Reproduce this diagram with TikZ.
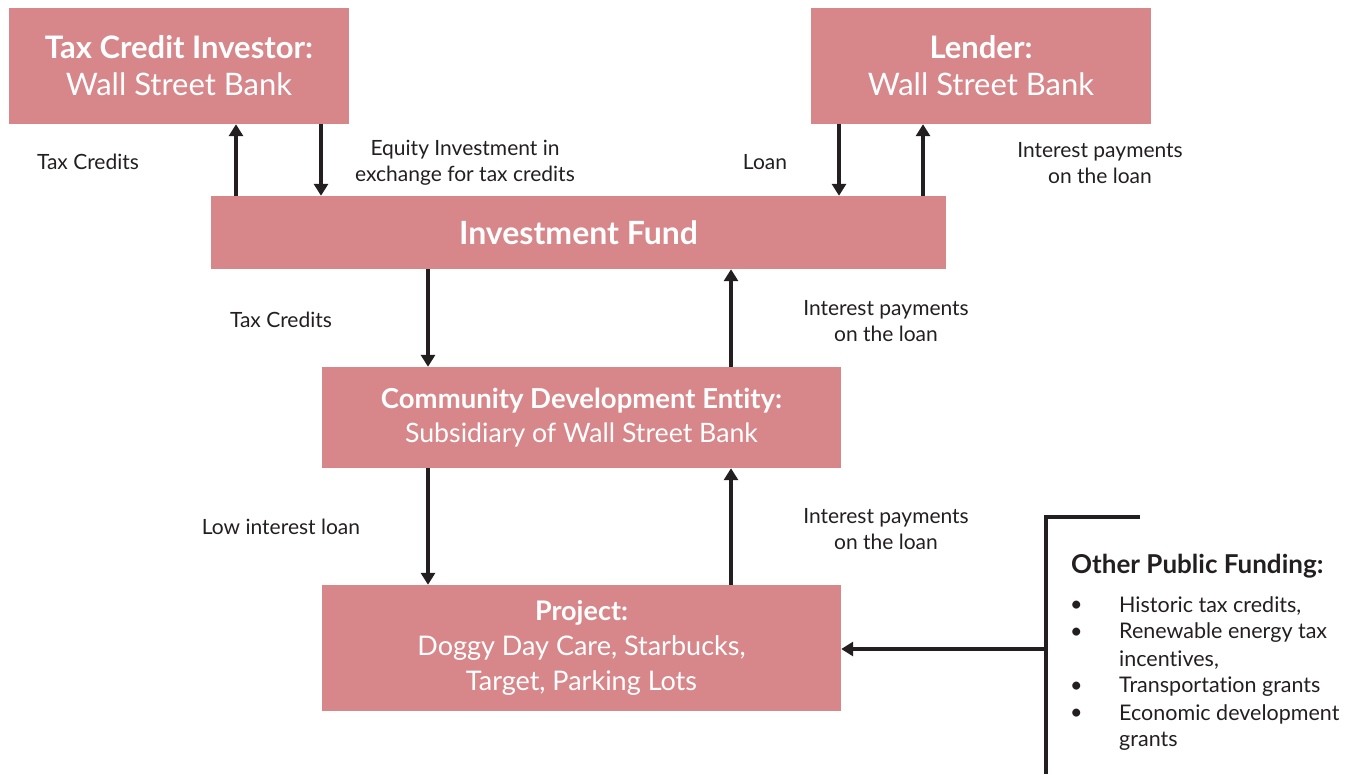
\documentclass[tikz,border=0pt]{standalone}
\usepackage{fontspec}
\setmainfont[Ligatures=NoCommon]{Lato}
\usetikzlibrary{arrows.meta}
\definecolor{boxpink}{HTML}{D7878A}
\definecolor{ink}{HTML}{231F20}
\begin{document}
\begin{tikzpicture}[x=1pt,y=-1pt,
  box/.style={fill=boxpink, text=white, inner sep=0pt, align=center, draw=none},
  arr/.style={draw=ink, line width=3.2pt, -{Triangle[width=14pt,length=12pt]}},
  lbl/.style={text=ink, font=\fontsize{21}{26}\selectfont, align=center, inner sep=0pt},
  listtxt/.style={text=ink, font=\fontsize{21.5}{27}\selectfont, anchor=west, inner sep=0pt},
  bline/.style={draw=ink, line width=3.2pt},
  ]
\useasboundingbox (0,0) rectangle (1356,774);

\node[box, minimum width=340, minimum height=116, font=\fontsize{31}{37}\selectfont] (tci) at (179,66)
  {\textbf{Tax Credit Investor:}\\Wall Street Bank};
\node[box, minimum width=340, minimum height=116, font=\fontsize{31}{37}\selectfont] (lender) at (981,66)
  {\textbf{Lender:}\\Wall Street Bank};
\node[box, minimum width=735, minimum height=73, font=\fontsize{32}{36}\selectfont\bfseries] (fund) at (578.5,232.5)
  {Investment Fund};
\node[box, minimum width=519, minimum height=101, font=\fontsize{26.7}{34}\selectfont] (cde) at (581.5,417.5)
  {{\fontsize{27.5}{34}\selectfont\bfseries Community Development Entity:}\\Subsidiary of Wall Street Bank};
\node[box, minimum width=519, minimum height=126, font=\fontsize{27}{35}\selectfont] (proj) at (581.5,648)
  {\textbf{Project:}\\Doggy Day Care, Starbucks,\\Target, Parking Lots};

% arrows top-left
\draw[arr] (fund.north -| 236,0) -- (tci.south -| 236,0);
\draw[arr] (tci.south -| 321,0) -- (fund.north -| 321,0);
% arrows top-right
\draw[arr] (lender.south -| 839,0) -- (fund.north -| 839,0);
\draw[arr] (fund.north -| 923,0) -- (lender.south -| 923,0);
% fund <-> cde
\draw[arr] (fund.south -| 428,0) -- (cde.north -| 428,0);
\draw[arr] (cde.north -| 731,0) -- (fund.south -| 731,0);
% cde <-> project
\draw[arr] (cde.south -| 428,0) -- (proj.north -| 428,0);
\draw[arr] (proj.north -| 731,0) -- (cde.south -| 731,0);

% labels
\node[lbl] (l1) at (88,162) {Tax Credits};
\node[lbl] (l2) at (465,163) {Equity Investment in\\exchange for tax credits};
\node[lbl] (l3) at (765,162) {Loan};
\node[lbl] (l4) at (1100,163) {Interest payments\\on the loan};
\node[lbl] (l5) at (281,320) {Tax Credits};
\node[lbl] (l6) at (886,321) {Interest payments\\on the loan};
\node[lbl] (l7) at (281,527) {Low interest loan};
\node[lbl] (l8) at (886,529) {Interest payments\\on the loan};

% bracket
\coordinate (bt) at (1046,517);
\coordinate (bb) at (1046,774);
\coordinate (br) at (1140,517);
\coordinate (bm) at (1046,649);
\draw[bline] (br) -- (bt) -- (bb);
\draw[arr] (bm) -- (proj.east |- bm);

\node[text=ink, font=\fontsize{26}{28}\selectfont\bfseries, anchor=west, inner sep=0pt] (opf) at (1071,566) {Other Public Funding:};
\foreach \yy in {606,633,687,714} { \node[listtxt] at (1070,\yy) {•}; }
\node[listtxt] (i1) at (1119,606) {Historic tax credits,};
\node[listtxt] (i2) at (1119,633) {Renewable energy tax};
\node[listtxt] (i3) at (1119,660) {incentives,};
\node[listtxt] (i4) at (1119,687) {Transportation grants};
\node[listtxt] (i5) at (1119,714) {Economic development};
\node[listtxt] (i6) at (1119,741) {grants};
\end{tikzpicture}
\end{document}
